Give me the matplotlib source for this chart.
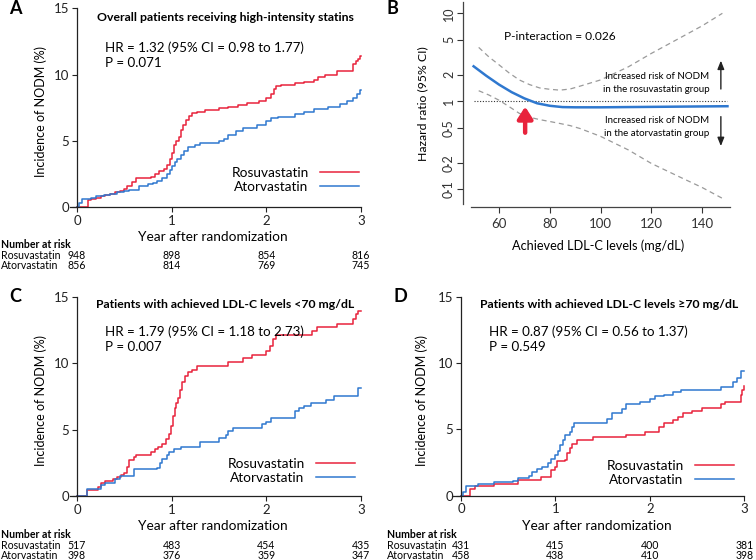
import matplotlib
matplotlib.use("Agg")
import matplotlib.pyplot as plt
from matplotlib.lines import Line2D
from matplotlib.transforms import blended_transform_factory

plt.rcParams['font.family'] = ['Lato', 'DejaVu Sans']

# ---- data ----
years = [0, 1, 2, 3]
groups = ["Rosuvastatin", "Atorvastatin"]

# panel A: overall
A_rosu_t = [0, 0.12, 0.15, 0.2, 0.25, 0.3, 0.35, 0.4, 0.45, 0.5, 0.53, 0.58, 0.62, 0.78, 0.82, 0.87, 0.92, 0.95, 0.98, 1.0,
            1.02, 1.05, 1.08, 1.1, 1.12, 1.15, 1.18, 1.22, 1.27, 1.35, 1.5, 1.6, 1.7, 1.8, 1.92, 2.0, 2.05, 2.08, 2.1, 2.15,
            2.3, 2.4, 2.5, 2.55, 2.62, 2.75, 2.92, 2.95, 2.97, 2.99, 3.0]
A_rosu_y = [0, 0.5, 0.6, 0.7, 0.8, 0.9, 1.0, 1.1, 1.2, 1.35, 1.6, 1.9, 2.2, 2.3, 2.5, 2.7, 2.9, 3.2, 3.6, 4.1,
            4.7, 5.0, 5.3, 5.8, 6.2, 6.6, 6.9, 7.1, 7.2, 7.35, 7.45, 7.55, 7.7, 7.85, 8.0, 8.2, 8.5, 8.9, 9.1, 9.2,
            9.35, 9.45, 9.55, 9.8, 10.0, 10.3, 10.8, 11.0, 11.2, 11.4, 11.4]
A_ator_t = [0, 0.02, 0.05, 0.15, 0.2, 0.28, 0.35, 0.42, 0.5, 0.55, 0.65, 0.75, 0.8, 0.85, 0.9, 0.95, 0.98, 1.0, 1.03, 1.06,
            1.1, 1.13, 1.17, 1.25, 1.3, 1.5, 1.55, 1.6, 1.68, 1.75, 1.9, 2.0, 2.05, 2.12, 2.3, 2.4, 2.5, 2.65, 2.78, 2.85,
            2.92, 2.96, 2.99, 3.0]
A_ator_y = [0, 0.3, 0.6, 0.7, 0.8, 0.9, 1.0, 1.1, 1.2, 1.3, 1.6, 1.7, 1.8, 2.0, 2.2, 2.5, 2.8, 3.1, 3.4, 3.6,
            3.9, 4.2, 4.5, 4.7, 4.85, 4.95, 5.1, 5.4, 5.7, 6.0, 6.2, 6.5, 6.7, 6.8, 7.0, 7.2, 7.4, 7.55, 7.8, 8.0,
            8.2, 8.5, 8.8, 8.8]
A_risk_rosu = [948, 898, 854, 816]
A_risk_ator = [856, 814, 769, 745]

# panel C: LDL-C < 70
C_rosu_t = [0, 0.11, 0.22, 0.25, 0.3, 0.38, 0.42, 0.46, 0.5, 0.53, 0.55, 0.6, 0.62, 0.78, 0.82, 0.86, 0.9, 0.94, 0.97, 0.99,
            1.01, 1.03, 1.05, 1.07, 1.09, 1.11, 1.14, 1.17, 1.21, 1.27, 1.6, 1.75, 1.85, 2.0, 2.04, 2.07, 2.1, 2.48, 2.53, 2.75,
            2.92, 2.95, 2.97, 3.0]
C_rosu_y = [0, 0.45, 0.7, 1.0, 1.15, 1.25, 1.4, 1.6, 1.75, 2.2, 2.7, 2.95, 3.1, 3.3, 3.5, 3.7, 3.9, 4.3, 4.7, 5.3,
            6.0, 6.6, 7.0, 7.4, 8.0, 8.6, 9.0, 9.3, 9.5, 9.75, 10.05, 10.35, 10.6, 10.95, 11.3, 11.8, 12.1, 12.4, 12.7, 12.95,
            13.3, 13.7, 13.9, 13.9]
C_ator_t = [0, 0.11, 0.25, 0.3, 0.4, 0.45, 0.6, 0.85, 0.88, 0.9, 0.95, 0.97, 1.02, 1.1, 1.3, 1.5, 1.57, 1.6, 1.65, 1.95,
            2.0, 2.05, 2.3, 2.35, 2.4, 2.47, 2.63, 2.72, 2.97, 3.0]
C_ator_y = [0, 0.5, 0.8, 1.0, 1.3, 1.5, 2.0, 2.1, 2.5, 2.8, 3.1, 3.3, 3.5, 3.7, 4.1, 4.4, 4.6, 4.9, 5.1, 5.4,
            5.6, 5.9, 6.4, 6.6, 6.8, 7.0, 7.2, 7.5, 8.1, 8.1]
C_risk_rosu = [517, 483, 454, 435]
C_risk_ator = [398, 376, 359, 347]

# panel D: LDL-C >= 70
D_rosu_t = [0, 0.1, 0.15, 0.35, 0.6, 0.85, 0.95, 1.0, 1.02, 1.1, 1.12, 1.15, 1.18, 1.23, 1.4, 1.75, 1.95, 2.1, 2.15, 2.25,
            2.3, 2.35, 2.45, 2.55, 2.75, 2.8, 2.96, 2.98, 2.995, 3.0]
D_rosu_y = [0, 0.5, 0.7, 0.9, 1.2, 1.4, 1.9, 2.2, 2.6, 2.7, 3.2, 3.6, 3.9, 4.2, 4.4, 4.6, 4.8, 5.2, 5.5, 5.7,
            5.9, 6.2, 6.4, 6.6, 6.9, 7.1, 7.6, 8.0, 8.3, 8.3]
D_ator_t = [0, 0.02, 0.05, 0.18, 0.35, 0.55, 0.6, 0.72, 0.75, 0.8, 0.86, 0.92, 0.95, 1.0, 1.03, 1.05, 1.08, 1.1, 1.15, 1.18,
            1.2, 1.55, 1.6, 1.7, 1.75, 1.9, 2.0, 2.05, 2.15, 2.25, 2.33, 2.75, 2.88, 2.92, 2.97, 3.0]
D_ator_y = [0, 0.3, 0.7, 0.9, 1.0, 1.1, 1.3, 1.5, 1.8, 2.0, 2.2, 2.5, 2.8, 3.1, 3.4, 3.8, 4.2, 4.6, 4.8, 5.2,
            5.5, 5.8, 6.2, 6.5, 6.9, 7.1, 7.3, 7.5, 7.6, 7.8, 8.0, 8.2, 8.6, 8.9, 9.4, 9.4]
D_risk_rosu = [431, 415, 400, 381]
D_risk_ator = [458, 438, 410, 398]

# panel B: spline of HR vs achieved LDL-C
ldl = [50, 55, 60, 65, 70, 75, 80, 85, 90, 100, 110, 120, 130, 140, 150]
hr = [2.5, 1.95, 1.55, 1.27, 1.08, 0.95, 0.89, 0.86, 0.855, 0.855, 0.86, 0.865, 0.87, 0.875, 0.88]
ci_ldl = [52, 56, 60, 64, 68, 72, 76, 80, 84, 88, 92, 100, 111, 120, 131, 140, 148]
ci_upper = [4.1, 3.2, 2.6, 2.1, 1.75, 1.55, 1.42, 1.37, 1.34, 1.38, 1.49, 1.75, 2.47, 3.5, 5.2, 7.2, 10.0]
ci_lower = [1.32, 1.18, 1.03, 0.87, 0.73, 0.66, 0.62, 0.59, 0.56, 0.53, 0.49, 0.40, 0.28, 0.197, 0.139, 0.105, 0.079]
hr_ticks = [0.1, 0.2, 0.5, 1, 2, 5, 10]
hr_ticklabels = ["0·1", "0·2", "0·5", "1", "2", "5", "10"]

RED = "#e8233c"
BLUE = "#2f78cf"
W, H = 756, 560

fig = plt.figure(figsize=(W / 100, H / 100), dpi=100)


def px(x, y):
    return x / W, 1 - y / H


def km_panel(letter, x0, x3, y0, y15, left, title, hr_txt, p_txt, txt_y, title_y,
             rosu, ator, risk_r, risk_a, leg_anchor, ylab_x, xlab_y, risk_y):
    sx = (x3 - x0) / 3.0
    xmin = -(x0 - left) / sx
    ax = fig.add_axes([left / W, 1 - y0 / H, (x3 - left) / W, (y0 - y15) / H])
    ax.set_xlim(xmin, 3)
    ax.set_ylim(0, 15)
    for s in ("top", "right"):
        ax.spines[s].set_visible(False)
    ax.spines["left"].set_position(("data", 0))
    for s in ("left", "bottom"):
        ax.spines[s].set_linewidth(0.9)
        ax.spines[s].set_color("#222222")
    ax.set_xticks(years)
    ax.set_yticks([0, 5, 10, 15])
    ax.tick_params(labelsize=9.5, length=3.5, width=0.8, pad=2, colors="#222222")

    ax.step(rosu[0], rosu[1], where="post", color=RED, lw=1.1, clip_on=False)
    ax.step(ator[0], ator[1], where="post", color=BLUE, lw=1.1, clip_on=False)

    handles = [Line2D([], [], color=RED, lw=1.1), Line2D([], [], color=BLUE, lw=1.1)]
    ax.legend(handles, groups, markerfirst=False, frameon=False, loc="lower right",
              bbox_to_anchor=px(*leg_anchor), bbox_transform=fig.transFigure,
              fontsize=9.8, handlelength=2.9, labelspacing=0.15, borderpad=0,
              borderaxespad=0, handletextpad=0.8)

    cx = x0 + (x3 - x0) / 2 + 6
    fig.text(*px(cx, title_y), title, fontsize=8.8, fontweight="bold", ha="center", va="center")
    fig.text(*px(x0 + 28, txt_y), hr_txt, fontsize=9.6, va="center")
    fig.text(*px(x0 + 28, txt_y + 15), p_txt, fontsize=9.6, va="center")
    fig.text(*px(ylab_x, (y0 + y15) / 2 + 4), "Incidence of NODM (%)", fontsize=9,
             rotation=90, ha="center", va="center")
    fig.text(*px(x0 + (x3 - x0) / 2 - 6, xlab_y), "Year after randomization", fontsize=9.8,
             ha="center", va="center")
    fig.text(*px(x0 - 68, 8 + (y15 - 8.3)), letter, fontsize=13, fontweight="bold", va="center")

    lx = 1 if x0 < 400 else 387
    fig.text(*px(lx, risk_y), "Number at risk", fontsize=7.6, fontweight="bold", va="center")
    tr = blended_transform_factory(ax.transData, fig.transFigure)
    for lab, vals, dy in ((groups[0], risk_r, 11), (groups[1], risk_a, 21.5)):
        fig.text(*px(lx, risk_y + dy), lab, fontsize=7.6, va="center")
        for yr, v in zip(years, vals):
            ax.text(yr, 1 - (risk_y + dy) / H, str(v), transform=tr, fontsize=7.6,
                    ha="center", va="center")
    return ax


km_panel("A", 77, 361, 207, 8.3, 70, "Overall patients receiving high-intensity statins",
         "HR = 1.32 (95% CI = 0.98 to 1.77)", "P = 0.071", 47.7, 17.3,
         (A_rosu_t, A_rosu_y), (A_ator_t, A_ator_y), A_risk_rosu, A_risk_ator,
         (359, 193), 41, 237.3, 244.3)
km_panel("C", 77, 361, 496, 296.7, 70, "Patients with achieved LDL-C levels <70 mg/dL",
         "HR = 1.79 (95% CI = 1.18 to 2.73)", "P = 0.007", 331.7, 305,
         (C_rosu_t, C_rosu_y), (C_ator_t, C_ator_y), C_risk_rosu, C_risk_ator,
         (355, 484), 41, 525.7, 534.3)
km_panel("D", 461, 744.3, 495.7, 296.7, 452, "Patients with achieved LDL-C levels ≥70 mg/dL",
         "HR = 0.87 (95% CI = 0.56 to 1.37)", "P = 0.549", 331.7, 305,
         (D_rosu_t, D_rosu_y), (D_ator_t, D_ator_y), D_risk_rosu, D_risk_ator,
         (734, 486), 421.7, 525.7, 534.3)

# ---- panel B ----
bl, br, bt, bb = 462.7, 730, 1.7, 207
axb = fig.add_axes([bl / W, 1 - bb / H, (br - bl) / W, (bb - bt) / H])
axb.set_yscale("log")
axb.set_xlim(45.7, 151)
axb.set_ylim(0.063, 13.55)
for s in ("top", "right"):
    axb.spines[s].set_visible(False)
for s in ("left", "bottom"):
    axb.spines[s].set_linewidth(0.9)
    axb.spines[s].set_color("#444444")
axb.spines["left"].set_bounds(0.068, 13.55)
axb.spines["bottom"].set_bounds(48.9, 151)
axb.set_yticks(hr_ticks)
axb.set_yticklabels(hr_ticklabels, rotation=90, va="center")
axb.minorticks_off()
axb.set_xticks([60, 80, 100, 120, 140])
axb.tick_params(axis="y", labelsize=9, length=4, width=0.8, pad=1.5, colors="#333333")
axb.tick_params(axis="x", labelsize=9.5, length=4, width=0.8, pad=4, colors="#333333")

axb.plot([50, 150], [1, 1], ls=(0, (1, 1.5)), color="#333333", lw=0.8)
axb.plot(ci_ldl, ci_upper, ls=(0, (4, 3)), color="#9a9a9a", lw=0.9)
axb.plot(ci_ldl, ci_lower, ls=(0, (4, 3)), color="#9a9a9a", lw=0.9)
axb.plot(ldl, hr, color=BLUE, lw=1.8)
axb.annotate("", xy=(70.3, 0.87), xytext=(70.3, 0.44),
             arrowprops=dict(arrowstyle="-|>,head_width=0.45,head_length=0.7", lw=3.2, color=RED,
                             shrinkA=0, shrinkB=0))
axb.annotate("", xy=(147.4, 2.9), xytext=(147.4, 1.38),
             arrowprops=dict(arrowstyle="-|>,head_width=0.2,head_length=0.5", lw=1.0, color="#222222",
                             shrinkA=0, shrinkB=0))
axb.annotate("", xy=(147.4, 0.31), xytext=(147.4, 0.67),
             arrowprops=dict(arrowstyle="-|>,head_width=0.2,head_length=0.5", lw=1.0, color="#222222",
                             shrinkA=0, shrinkB=0))

fig.text(*px(504, 36), "P-interaction = 0.026", fontsize=8.6, va="center")
fig.text(*px(656.7, 82.7), "Increased risk of NODM\nin the rosuvastatin group", fontsize=7.0,
         ha="center", va="center", linespacing=1.6)
fig.text(*px(656.7, 127), "Increased risk of NODM\nin the atorvastatin group", fontsize=7.0,
         ha="center", va="center", linespacing=1.6)
fig.text(*px(422.7, 103.3), "Hazard ratio (95% CI)", fontsize=8.8, rotation=90, ha="center", va="center")
fig.text(*px(598.3, 246), "Achieved LDL-C levels (mg/dL)", fontsize=9.2, ha="center", va="center")
fig.text(*px(386, 8.3), "B", fontsize=13, fontweight="bold", va="center")

fig.savefig("out.png", dpi=100)
